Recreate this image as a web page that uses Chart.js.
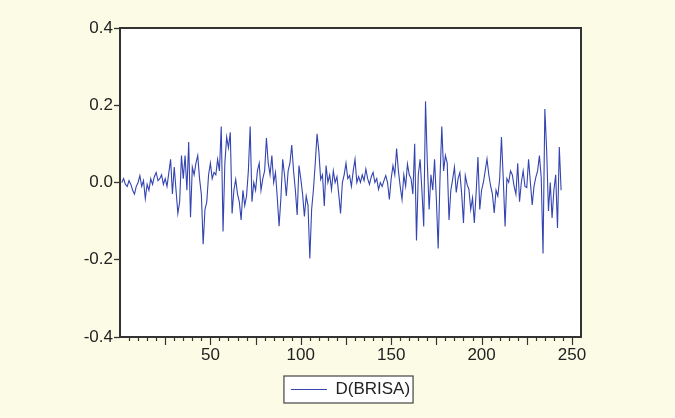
<!DOCTYPE html>
<html>
<head>
<meta charset="utf-8">
<script src="https://cdn.jsdelivr.net/npm/chart.js@4"></script>
<style>
  body { margin: 0; background: #fcfce6; }
  #wrap { width: 675px; height: 418px; }
</style>
</head>
<body>
<div id="wrap"><canvas id="dChart" width="675" height="418"></canvas></div>
<script>
// D(BRISA), obs 1..244
const dBrisa = [
  0.000, 0.010, -0.005, -0.010, 0.005, -0.005, -0.020, -0.030, -0.010, 0.000,
  0.018, -0.010, 0.005, -0.042, -0.005, -0.020, 0.010, -0.005, 0.015, 0.026,
  0.005, 0.010, 0.020, -0.005, 0.010, -0.010, 0.025, 0.060, -0.030, 0.040,
  -0.020, -0.080, -0.050, 0.070, 0.010, 0.070, -0.020, 0.105, -0.090, 0.040,
  0.020, 0.050, 0.070, 0.010, -0.030, -0.160, -0.070, -0.050, 0.020, 0.050,
  0.010, 0.026, 0.020, 0.060, 0.030, 0.145, -0.127, 0.050, 0.118, 0.090,
  0.130, -0.080, -0.020, 0.008, -0.030, -0.050, -0.097, -0.020, -0.060, -0.035,
  0.030, 0.145, -0.050, 0.000, -0.020, 0.030, 0.050, -0.020, 0.010, 0.030,
  0.115, 0.050, 0.020, 0.070, 0.000, 0.026, -0.040, -0.113, -0.040, 0.060,
  0.020, -0.035, 0.030, 0.050, 0.097, 0.030, -0.020, -0.084, 0.044, 0.010,
  -0.030, -0.088, -0.035, -0.060, -0.197, -0.070, -0.018, 0.050, 0.126, 0.080,
  0.008, 0.020, -0.061, 0.044, 0.000, 0.020, -0.018, 0.030, 0.000, 0.015,
  -0.030, -0.080, 0.000, 0.020, 0.050, 0.010, 0.018, -0.010, 0.030, 0.060,
  0.000, 0.015, 0.000, 0.020, 0.005, 0.035, 0.010, -0.005, 0.015, 0.026,
  0.000, 0.010, -0.018, 0.000, -0.010, 0.005, 0.018, 0.000, -0.044, 0.010,
  0.044, 0.020, 0.088, 0.030, -0.010, -0.044, 0.020, -0.010, 0.048, 0.020,
  0.010, -0.030, 0.100, -0.150, 0.020, 0.060, -0.020, -0.114, 0.210, 0.050,
  -0.070, 0.020, -0.020, 0.060, -0.044, -0.171, 0.010, 0.145, 0.030, 0.070,
  0.050, -0.097, -0.020, 0.008, 0.040, -0.026, 0.010, 0.026, -0.030, -0.105,
  0.018, -0.005, -0.018, -0.070, -0.040, -0.105, -0.026, 0.066, -0.070, -0.020,
  0.000, 0.030, 0.061, 0.020, -0.009, -0.030, -0.079, -0.020, -0.035, 0.009,
  0.118, 0.010, -0.114, 0.010, 0.000, 0.030, 0.020, -0.010, -0.030, 0.050,
  -0.050, 0.000, 0.030, -0.010, -0.013, 0.060, 0.000, -0.058, -0.010, 0.013,
  0.030, 0.070, 0.013, -0.184, 0.190, 0.084, -0.074, 0.000, -0.092, -0.020,
  0.020, -0.118, 0.092, -0.020
]
// observation numbers 1..N
const obs = dBrisa.map((v, i) => i + 1)

const xLabelTicks = [50, 100, 150, 200, 250]
const yTicks = [-0.4, -0.2, 0.0, 0.2, 0.4]

const points = obs.map((o, i) => ({ x: o, y: dBrisa[i] }))

const frameColor = '#333333'
const textColor = '#222222'
const fontFamily = 'Liberation Sans, Arial, sans-serif'

function legendBox(chart) {
  const lg = chart.legend
  if (!lg || !lg.legendHitBoxes.length) return null
  const hb = lg.legendHitBoxes[0]
  return { x: hb.left - 7, y: hb.top - 5, w: hb.width + 10, h: hb.height + 10 }
}

// white plot area, box round the plot, x tick marks (short every 5, long every 25), legend frame
const framePlugin = {
  id: 'framePlugin',
  afterLayout(chart) {
    // centre the legend under the plot area, not the whole canvas
    const lg = chart.legend
    const a = chart.chartArea
    const shift = (a.left + a.right) / 2 - (lg.left + lg.right) / 2
    lg.left += shift
    lg.right += shift
  },
  beforeDraw(chart) {
    const ctx = chart.ctx
    const a = chart.chartArea
    ctx.save()
    ctx.fillStyle = '#ffffff'
    ctx.fillRect(a.left, a.top, a.right - a.left, a.bottom - a.top)
    const b = legendBox(chart)
    if (b) ctx.fillRect(b.x, b.y, b.w, b.h)
    ctx.restore()
  },
  afterDraw(chart) {
    const ctx = chart.ctx
    const a = chart.chartArea
    const xs = chart.scales.x
    ctx.save()
    ctx.strokeStyle = frameColor
    ctx.lineWidth = 1.2
    for (let v = 5; v < xs.max; v += 5) {
      const px = Math.round(xs.getPixelForValue(v)) + 0.5
      const len = v % 25 === 0 ? 8 : 4
      ctx.beginPath()
      ctx.moveTo(px, a.bottom)
      ctx.lineTo(px, a.bottom + len)
      ctx.stroke()
    }
    ctx.lineWidth = 2
    ctx.strokeRect(a.left, a.top, a.right - a.left, a.bottom - a.top)

    const b = legendBox(chart)
    if (b) {
      ctx.lineWidth = 1.2
      ctx.strokeStyle = '#444444'
      ctx.strokeRect(b.x, b.y, b.w, b.h)
    }
    ctx.restore()
  }
}

var ctx = document.getElementById('dChart')
const config = {
  type: 'line',
  data: {
    datasets: [
      {
        label: 'D(BRISA)',
        data: points,
        borderColor: '#3444b0',
        backgroundColor: '#5a6cc4',
        borderWidth: 1.1,
        pointRadius: 0,
        pointStyle: 'line',
        tension: 0
      }
    ]
  },
  options: {
    responsive: false,
    animation: false,
    layout: {
      padding: { left: 40, right: 94, top: 28, bottom: 10 }
    },
    plugins: {
      title: { display: false },
      tooltip: { enabled: false },
      legend: {
        position: 'bottom',
        labels: {
          color: textColor,
          font: { family: fontFamily, size: 17 },
          usePointStyle: true,
          pointStyleWidth: 36,
          padding: 8
        }
      }
    },
    scales: {
      x: {
        type: 'linear',
        min: 0,
        max: 255,
        offset: false,
        afterFit: (s) => { s.height = 36 },
        afterBuildTicks: (s) => { s.ticks = xLabelTicks.map(v => ({ value: v })) },
        grid: {
          drawOnChartArea: false,
          drawTicks: true,
          tickLength: 4,
          tickColor: 'rgba(0,0,0,0)'
        },
        border: { display: false },
        ticks: {
          autoSkip: false,
          maxRotation: 0,
          padding: 4,
          color: textColor,
          font: { family: fontFamily, size: 17 },
          callback: (v) => String(v)
        }
      },
      y: {
        min: -0.4,
        max: 0.4,
        afterFit: (s) => { s.width = 80 },
        afterBuildTicks: (s) => { s.ticks = yTicks.map(v => ({ value: v })) },
        grid: {
          drawOnChartArea: false,
          drawTicks: true,
          tickLength: 6,
          tickColor: frameColor,
          tickWidth: 1.3
        },
        border: { display: false },
        ticks: {
          padding: 1,
          color: textColor,
          font: { family: fontFamily, size: 17 },
          callback: (v) => Number(v).toFixed(1)
        }
      }
    }
  },
  plugins: [framePlugin]
}
var dChart = new Chart(ctx, config)
</script>
</body>
</html>
